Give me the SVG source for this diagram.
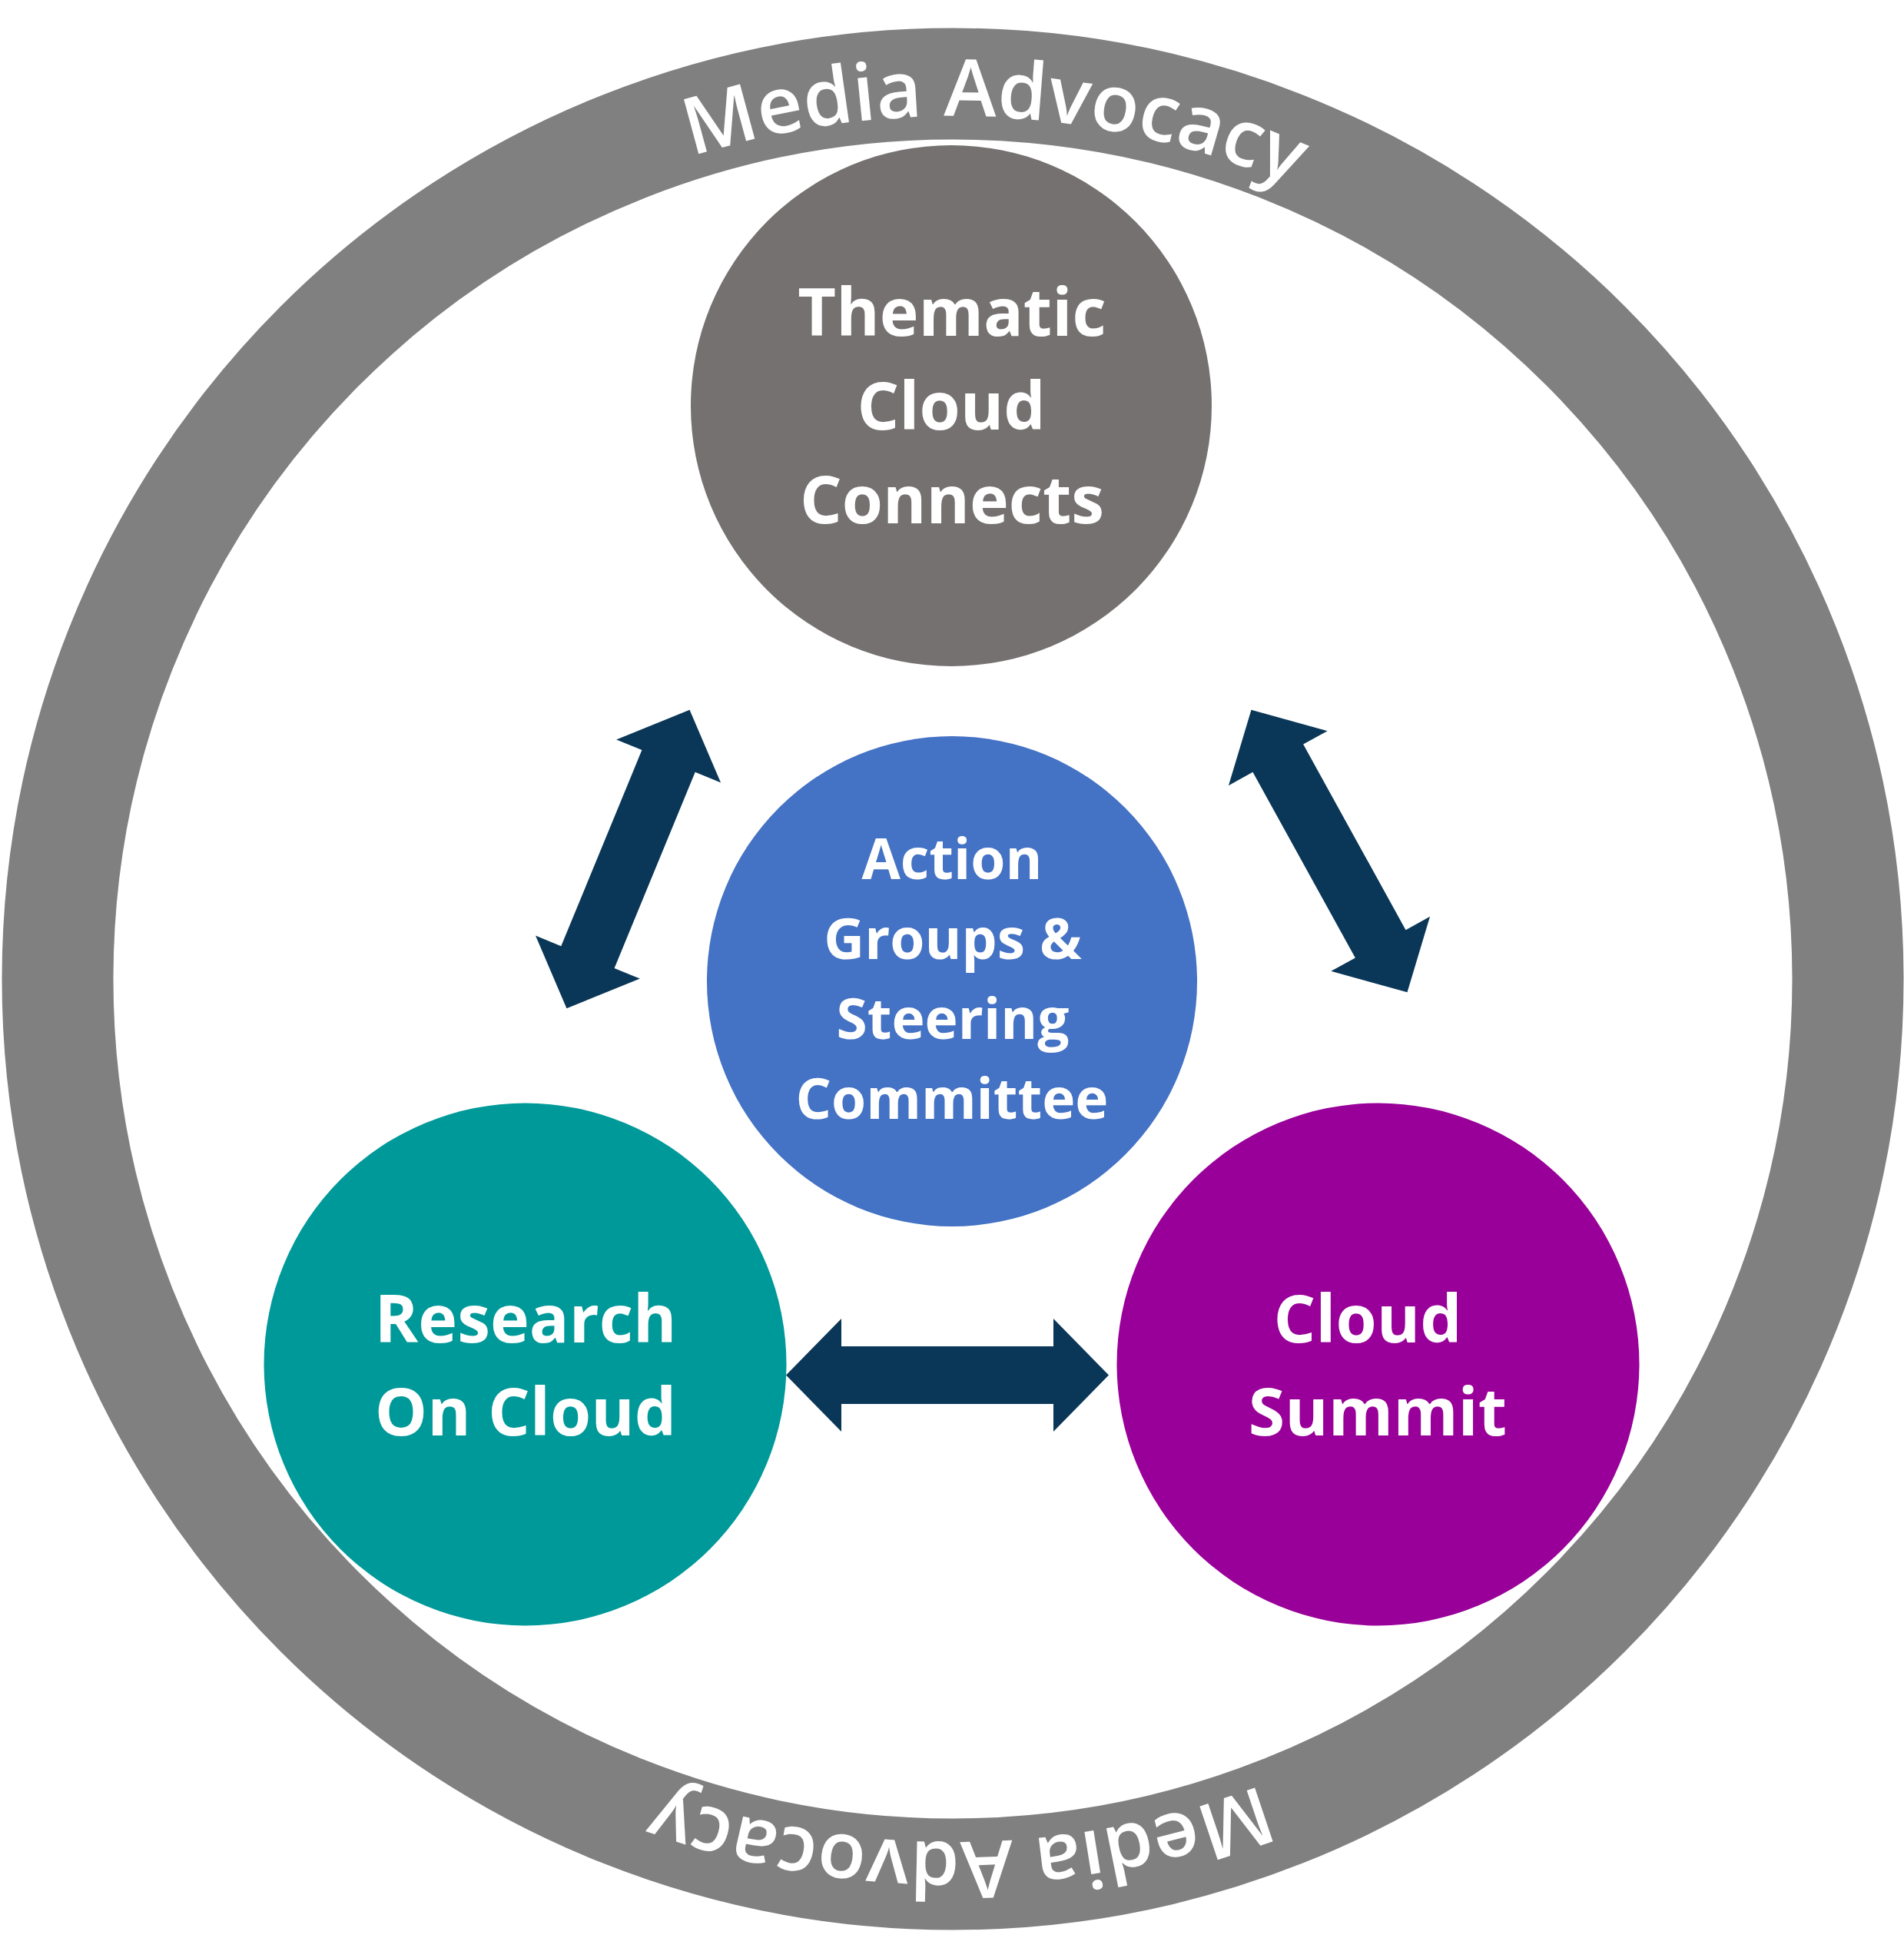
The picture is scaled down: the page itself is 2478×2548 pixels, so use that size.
<svg xmlns="http://www.w3.org/2000/svg" width="2478" height="2548" viewBox="0 0 2478 2548">
  <style>
    .ringtext { font-family: "Open Sans", "Noto Sans", sans-serif; font-weight: 600; font-size: 103px; fill: #ffffff; }
    .label { font-family: "Open Sans", "Noto Sans", sans-serif; font-weight: 700; fill: #ffffff; text-anchor: middle; }
    .big { font-size: 86px; }
    .mid { font-size: 73px; }
    .arrow { fill: #0A3758; }
  </style>
  <defs>
    <path id="ringPath" d="M 117,1274 A 1123,1123 0 0,1 2363,1274 A 1123,1123 0 0,1 117,1274"/>
    <path id="dblArrow" d="M -210,0 L -138,-73.5 L -138,-37.5 L 138,-37.5 L 138,-73.5 L 210,0 L 138,73.5 L 138,37.5 L -138,37.5 L -138,73.5 Z"/>
  </defs>
  <rect width="2478" height="2548" fill="#ffffff"/>

  <g id="media-advocacy">
    <circle cx="1240" cy="1274" r="1165" fill="none" stroke="#808080" stroke-width="145"/>
    <text class="ringtext"><textPath href="#ringPath" startOffset="1819" text-anchor="middle">Media Advocacy</textPath></text>
    <text class="ringtext"><textPath href="#ringPath" startOffset="5281" text-anchor="middle">Media Advocacy</textPath></text>
  </g>

  <g id="thematic-cloud-connects">
    <circle cx="1238" cy="528" r="339" fill="#767171"/>
    <text class="label big" x="1239" y="437">Thematic</text>
    <text class="label big" x="1238" y="559">Cloud</text>
    <text class="label big" x="1239" y="681">Connects</text>
  </g>

  <g id="action-groups">
    <circle cx="1239" cy="1277" r="319" fill="#4472C4"/>
    <text class="label mid" x="1239" y="1144">Action</text>
    <text class="label mid" x="1240" y="1248">Groups &amp;</text>
    <text class="label mid" x="1240" y="1352">Steering</text>
    <text class="label mid" x="1239" y="1456">Committee</text>
  </g>

  <g id="research-on-cloud">
    <circle cx="683.5" cy="1775.5" r="340" fill="#009999"/>
    <text class="label big" x="684" y="1747">Research</text>
    <text class="label big" x="684" y="1868">On Cloud</text>
  </g>

  <g id="cloud-summit">
    <circle cx="1793.5" cy="1775.5" r="340" fill="#990099"/>
    <text class="label big" x="1780" y="1747">Cloud</text>
    <text class="label big" x="1793" y="1868">Summit</text>
  </g>

  <g id="connectors">
    <use href="#dblArrow" class="arrow" transform="translate(817.5,1118) rotate(-67.6)"/>
    <use href="#dblArrow" class="arrow" transform="translate(1730,1107.5) rotate(61.1)"/>
    <use href="#dblArrow" class="arrow" transform="translate(1233,1789.5)"/>
  </g>
</svg>
